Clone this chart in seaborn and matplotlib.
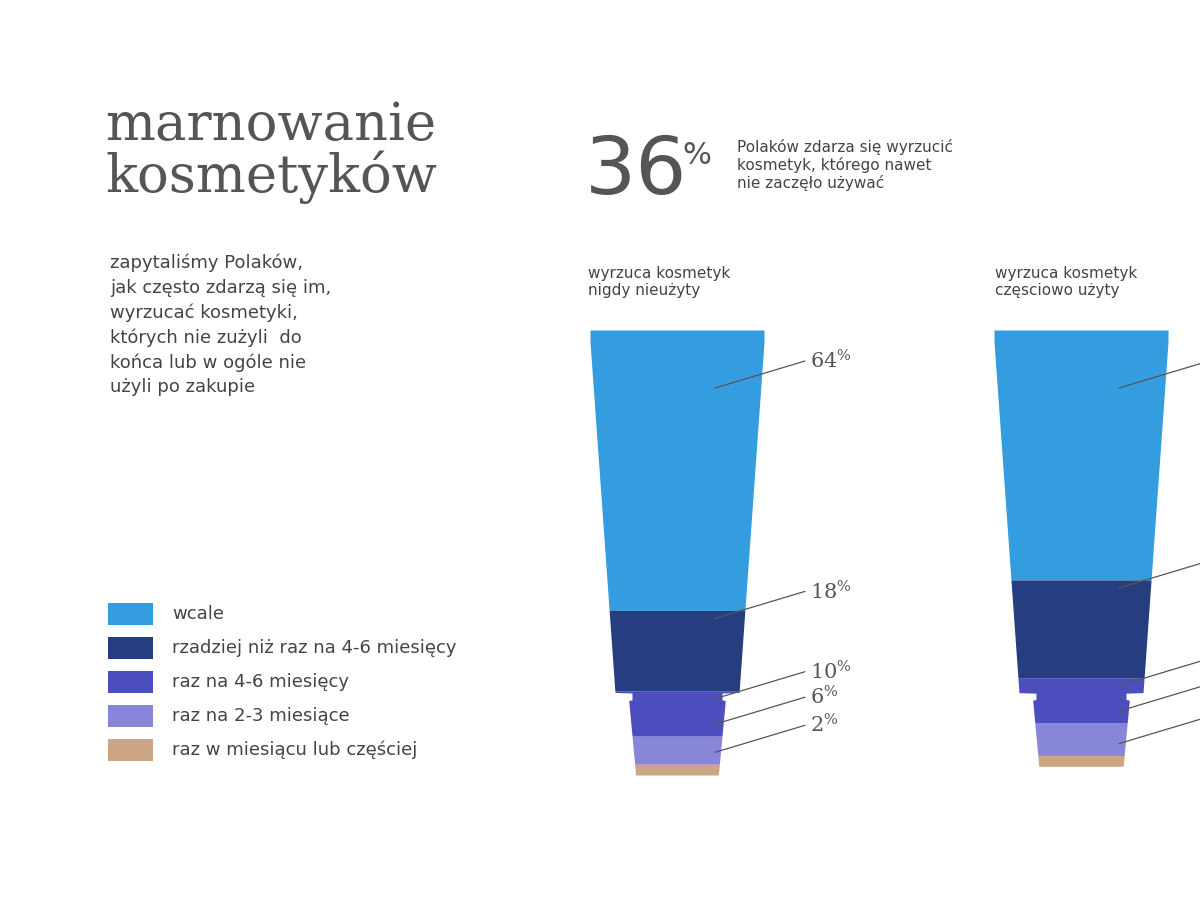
import numpy as np
import matplotlib.pyplot as plt
import seaborn as sns
from matplotlib.patches import Rectangle

# dane
categories = ["wcale", "rzadziej niż raz na 4-6 miesięcy", "raz na 4-6 miesięcy",
              "raz na 2-3 miesiące", "raz w miesiącu lub częściej"]
never_used = [64, 18, 10, 6, 2]
partly_used = [57, 22, 10, 7, 2]  # etykiety ucięte na obrazku - wartości szacowane
colors = ["#349de0", "#263d80", "#4c4ebd", "#8886d9", "#cba584"]

sns.set_theme(style="white")
plt.rcParams["mathtext.fontset"] = "dejavuserif"
fig = plt.figure(figsize=(12, 9), dpi=100)
ax = fig.add_axes([0, 0, 1, 1])
ax.set_xlim(0, 1200)
ax.set_ylim(900, 0)
ax.axis("off")

grey = "#555555"
TOP = 330
BODY_END = 693


def half_width(y):
    # profil tuby: korpus lekko się zwęża, nakrętka węższa
    body = np.where(y < TOP + 12, 87, 87 - 25 * (y - TOP - 12) / (BODY_END - TOP - 12))
    cap = np.where(y < BODY_END + 7, 45, 49 - 7 * (y - BODY_END) / 75)
    return np.where(y <= BODY_END, body, cap)


def draw_tube(cx, values, labels):
    heights = [2 + 4.35 * v for v in values]
    edges = np.concatenate([[TOP], TOP + np.cumsum(heights)])
    for i, v in enumerate(values):
        y = np.linspace(edges[i], edges[i + 1], 80)
        hw = half_width(y)
        ax.fill_betweenx(y, cx - hw, cx + hw, color=colors[i], lw=0)
        # linia odnośnika
        if i == 0:
            ya = edges[0] + 58
        elif i < 3:
            ya = edges[i] + 8
        else:
            ya = edges[i] - 12
        ax.plot([cx + 38, cx + 128], [ya, ya - 27], color="#555555", lw=0.9)
        if labels:
            ax.text(cx + 133, ya - 27, f"{v}$^{{\\%}}$", fontsize=15, family="DejaVu Serif",
                    color=grey, va="center", ha="left")


draw_tube(677, never_used, True)
draw_tube(1081, partly_used, False)

ax.text(105, 152, "marnowanie\nkosmetyków", fontsize=38, family="DejaVu Serif",
        color=grey, va="center", ha="left", linespacing=1.0, fontweight="light")
ax.text(110, 325, "zapytaliśmy Polaków,\njak często zdarzą się im,\nwyrzucać kosmetyki,\n"
        "których nie zużyli  do\nkońca lub w ogóle nie\nużyli po zakupie",
        fontsize=13, color="#444444", va="center", ha="left", linespacing=1.45)

ax.text(585, 172, "36", fontsize=58, color=grey, va="center", ha="left")
ax.text(682, 155, "%", fontsize=22, color=grey, va="center", ha="left")
ax.text(737, 165, "Polaków zdarza się wyrzucić\nkosmetyk, którego nawet\nnie zaczęło używać",
        fontsize=11, color="#444444", va="center", ha="left", linespacing=1.15)

ax.text(588, 282, "wyrzuca kosmetyk\nnigdy nieużyty", fontsize=11, color="#444444",
        va="center", ha="left", linespacing=1.2)
ax.text(995, 282, "wyrzuca kosmetyk\nczęsciowo użyty", fontsize=11, color="#444444",
        va="center", ha="left", linespacing=1.2)

for i, (lab, c) in enumerate(zip(categories, colors)):
    y = 614 + 34 * i
    ax.add_patch(Rectangle((108, y - 11), 45, 22, color=c, lw=0))
    ax.text(172, y, lab, fontsize=13, color="#444444", va="center", ha="left")

fig.savefig("out.png", dpi=100, facecolor="white")
